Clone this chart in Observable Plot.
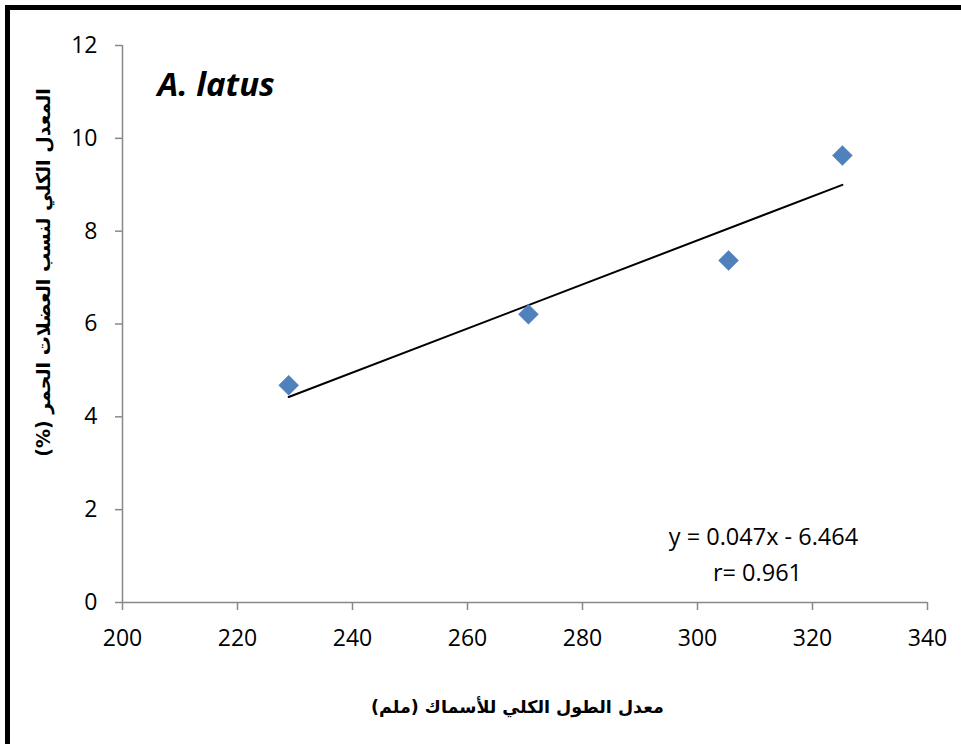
<!DOCTYPE html>
<html>
<head>
<meta charset="utf-8">
<script src="https://cdn.jsdelivr.net/npm/d3@7"></script>
<script src="https://cdn.jsdelivr.net/npm/@observablehq/plot@0.6"></script>
<style>
  html, body { margin: 0; padding: 0; background: #fff; }
  #wrap { position: relative; width: 961px; height: 744px; overflow: hidden; }
  #border { position: absolute; left: 5px; top: 5px; width: 1000px; height: 800px;
            border-top: 5px solid #000; border-left: 5px solid #000; box-sizing: border-box; }
  #chart { position: absolute; left: 0; top: 0; }
</style>
</head>
<body>
<div id="wrap"><div id="border"></div><div id="chart"></div></div>
<script>
const lengths = [228.9, 270.6, 305.4, 325.2];
const redMuscle = [4.68, 6.21, 7.37, 9.63];
const xTicks = [200, 220, 240, 260, 280, 300, 320, 340];
const yTicks = [0, 2, 4, 6, 8, 10, 12];
const speciesLabel = "A. latus";
const equationLabel = "y = 0.047x - 6.464";
const rLabel = "r= 0.961";
const xTitle = "معدل الطول الكلي للأسماك (ملم)";
const yTitle = "المعدل الكلي لنسب العضلات الحمر (%)\u200F";

const data = lengths.map((x, i) => ({x, y: redMuscle[i]}));
const numFont = "'Open Sans', 'Noto Sans', sans-serif";
const arFont = "'DejaVu Sans', sans-serif";

const chart = Plot.plot({
  width: 961,
  height: 744,
  marginLeft: 122,
  marginRight: 34,
  marginTop: 45,
  marginBottom: 142,
  style: {background: "transparent", fontFamily: numFont},
  x: {domain: [200, 340], ticks: xTicks},
  y: {domain: [0, 12], ticks: yTicks},
  marks: [
    Plot.axisX({ticks: xTicks, tickSize: 8, tickPadding: 19, fontSize: 23, stroke: "#888", strokeWidth: 1.5, color: "#000", label: null, fontFamily: numFont}),
    Plot.axisY({ticks: yTicks, tickSize: 7, tickPadding: 18, fontSize: 23, stroke: "#888", strokeWidth: 1.5, color: "#000", label: null, fontFamily: numFont}),
    Plot.ruleY([0], {stroke: "#888", strokeWidth: 1.5}),
    Plot.ruleX([200], {stroke: "#888", strokeWidth: 1.5}),
    Plot.linearRegressionY(data, {x: "x", y: "y", ci: 0, stroke: "#000", strokeWidth: 2}),
    Plot.dot(data, {x: "x", y: "y", symbol: "diamond2", r: 9, fill: "#4F81BD", stroke: "#4F81BD", strokeWidth: 0.5}),
    Plot.text([speciesLabel], {frameAnchor: "top-left", dx: 35, dy: 27, textAnchor: "start", fontSize: 33, fontWeight: "bold", fontStyle: "italic", fontFamily: numFont, fill: "#000"}),
    Plot.text([equationLabel], {frameAnchor: "top-left", dx: 641, dy: 483, textAnchor: "middle", fontSize: 23.5, fontFamily: numFont, fill: "#000"}),
    Plot.text([rLabel], {frameAnchor: "top-left", dx: 635, dy: 519, textAnchor: "middle", fontSize: 23.5, fontFamily: numFont, fill: "#000"}),
    Plot.text([xTitle], {frameAnchor: "top-left", dx: 395, dy: 655, textAnchor: "middle", fontSize: 17.5, fontWeight: "bold", fontFamily: arFont, fill: "#000"}),
    Plot.text([yTitle], {frameAnchor: "top-left", dx: -86, dy: 227, rotate: -90, textAnchor: "middle", fontSize: 19, fontWeight: "bold", fontFamily: arFont, fill: "#000"})
  ]
});
document.getElementById("chart").appendChild(chart);
</script>
</body>
</html>
